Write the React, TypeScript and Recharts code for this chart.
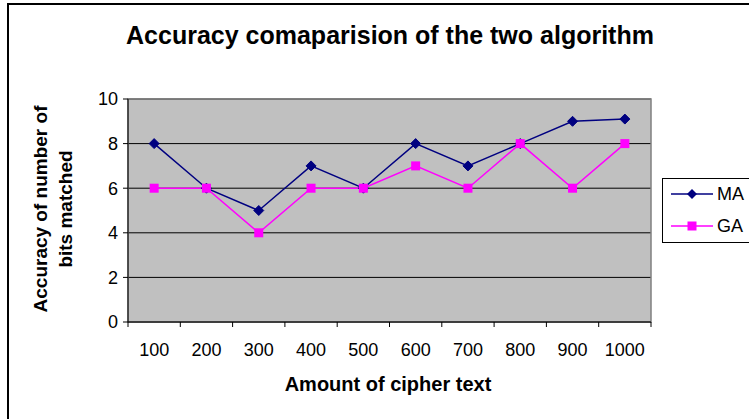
import React from "react"
import {
  CartesianGrid,
  ComposedChart,
  Line,
  ReferenceArea,
  XAxis,
  YAxis,
} from "recharts"

const CATEGORIES = ["100", "200", "300", "400", "500", "600", "700", "800", "900", "1000"]
const MA_VALUES = [8, 6, 5, 7, 6, 8, 7, 8, 9, 9.1]
const GA_VALUES = [6, 6, 4, 6, 6, 7, 6, 8, 6, 8]
const Y_TICKS = [0, 2, 4, 6, 8, 10]

const MA_COLOR = "#000080"
const GA_COLOR = "#FF00FF"
const FONT = "'Liberation Sans', Arial, sans-serif"

const data = CATEGORIES.map((c, i) => ({ name: c, MA: MA_VALUES[i], GA: GA_VALUES[i] }))

const Diamond = (props: any) => {
  const { cx, cy } = props
  if (cx == null || cy == null) return null
  const r = 5
  return (
    <polygon
      points={`${cx},${cy - r} ${cx + r},${cy} ${cx},${cy + r} ${cx - r},${cy}`}
      fill={MA_COLOR}
      stroke={MA_COLOR}
    />
  )
}

const Square = (props: any) => {
  const { cx, cy } = props
  if (cx == null || cy == null) return null
  return <rect x={cx - 4.5} y={cy - 4.5} width={9} height={9} fill={GA_COLOR} />
}

const CategoryTick = (props: any) => {
  const { x, y, payload, index, visibleTicksCount } = props
  const half = payload?.offset ?? 26
  const last = index === visibleTicksCount - 1
  return (
    <g>
      <line x1={x - half} x2={x - half} y1={y} y2={y + 5} stroke="#000" />
      {last && <line x1={x + half} x2={x + half} y1={y} y2={y + 5} stroke="#000" />}
      <text
        x={x}
        y={y + 21}
        dy="0.71em"
        textAnchor="middle"
        fontSize={18}
        fontFamily={FONT}
        fill="#000"
      >
        {payload.value}
      </text>
    </g>
  )
}

export default function App() {
  return (
    <div
      style={{
        position: "absolute",
        left: 0,
        top: 0,
        width: 749,
        height: 419,
        background: "#fff",
        overflow: "hidden",
        fontFamily: FONT,
      }}
    >
      <div
        style={{
          position: "absolute",
          left: 7,
          top: 3,
          width: 800,
          height: 500,
          border: "2px solid #000",
        }}
      />
      <div
        style={{
          position: "absolute",
          left: 0,
          width: 780,
          top: 20,
          textAlign: "center",
          fontSize: 25,
          fontWeight: "bold",
          lineHeight: "30px",
          color: "#000",
        }}
      >
        Accuracy comaparision of the two algorithm
      </div>
      <div
        style={{
          position: "absolute",
          left: 53 - 150,
          top: 209 - 25,
          width: 300,
          height: 50,
          transform: "rotate(-90deg)",
          textAlign: "center",
          fontSize: 19,
          fontWeight: "bold",
          lineHeight: "25px",
          color: "#000",
        }}
      >
        Accuracy of number of
        <br />
        bits matched
      </div>
      <div
        style={{
          position: "absolute",
          left: 188,
          width: 400,
          top: 372,
          textAlign: "center",
          fontSize: 20,
          fontWeight: "bold",
          lineHeight: "24px",
          color: "#000",
        }}
      >
        Amount of cipher text
      </div>

      <div style={{ position: "absolute", left: 0, top: 0 }}>
        <ComposedChart
          width={749}
          height={419}
          data={data}
          margin={{ top: 99, right: 98, bottom: 67, left: 68 }}
        >
          <CartesianGrid vertical={false} stroke="#000" fill="#C0C0C0" />
          <ReferenceArea y1={0} y2={10} fill="none" stroke="#808080" strokeWidth={1.5} />
          <XAxis
            dataKey="name"
            type="category"
            scale="band"
            height={30}
            tickSize={0}
            tickMargin={0}
            tickLine={false}
            axisLine={{ stroke: "#000" }}
            interval={0}
            tick={<CategoryTick />}
          />
          <YAxis
            width={60}
            domain={[0, 10]}
            ticks={Y_TICKS}
            tickSize={5}
            tickMargin={5}
            axisLine={{ stroke: "#000" }}
            tickLine={{ stroke: "#000" }}
            tick={{ fill: "#000", fontSize: 18, fontFamily: FONT }}
          />
          <Line
            dataKey="MA"
            stroke={MA_COLOR}
            strokeWidth={1.5}
            dot={<Diamond />}
            activeDot={false}
            isAnimationActive={false}
          />
          <Line
            dataKey="GA"
            stroke={GA_COLOR}
            strokeWidth={1.5}
            dot={<Square />}
            activeDot={false}
            isAnimationActive={false}
          />
        </ComposedChart>
      </div>

      <svg
        style={{ position: "absolute", left: 662, top: 178 }}
        width={100}
        height={66}
      >
        <rect x={0.5} y={0.5} width={110} height={64} fill="#fff" stroke="#000" />
        <line x1={9} x2={51} y1={16} y2={16} stroke={MA_COLOR} strokeWidth={1.5} />
        <polygon points="30,11 35,16 30,21 25,16" fill={MA_COLOR} />
        <text x={55} y={16} dy="0.36em" fontSize={18} fontFamily={FONT} fill="#000">
          MA
        </text>
        <line x1={9} x2={51} y1={48} y2={48} stroke={GA_COLOR} strokeWidth={1.5} />
        <rect x={25.5} y={43.5} width={9} height={9} fill={GA_COLOR} />
        <text x={55} y={48} dy="0.36em" fontSize={18} fontFamily={FONT} fill="#000">
          GA
        </text>
      </svg>
    </div>
  )
}
